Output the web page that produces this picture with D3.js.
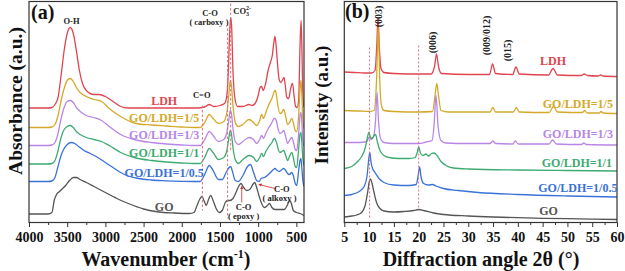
<!DOCTYPE html>
<html><head><meta charset="utf-8">
<script src="https://cdn.jsdelivr.net/npm/d3@7"></script>
<style>
body{margin:0;background:#fff}
svg{display:block;font-family:"Liberation Serif","Times New Roman",serif;font-weight:bold}
</style></head><body>
<svg id="chart" width="625" height="271"></svg>
<script>
// series names + colours (same order in both panels)
const seriesNames = ["LDH", "GO/LDH=1/5", "GO/LDH=1/3", "GO/LDH=1/1", "GO/LDH=1/0.5", "GO"];
const seriesColors = ["#e0454f", "#d4a92a", "#b886e6", "#3dab72", "#3a72d8", "#555555"];

// ---- (a) FTIR: [wavenumber cm-1, absorbance a.u. (offset)] ----
const ftirLDH = [[4000,114.5],[3750,114.5],[3700,115],[3660,118],[3620,125],[3580,147],[3540,172],[3500,189],[3460,195],[3420,189],[3380,172],[3340,152],[3300,139],[3250,132],[3150,128],[3080,128],[3000,126],[2900,121],[2800,116],[2700,114.5],[1800,114.5],[1700,115.5],[1640,118],[1580,116],[1500,117],[1440,119],[1410,127],[1390,152],[1372,192],[1360,205],[1348,197],[1330,152],[1300,122],[1270,116],[1200,116],[1120,118],[1080,117],[1040,119],[1000,127],[975,135],[955,136],[935,132],[905,138],[870,152],[840,160],[815,167],[795,180],[780,186],[765,177],[745,157],[725,143],[705,140],[685,142],[662,145],[645,137],[625,125],[600,124],[575,134],[550,139],[530,127],[510,116],[490,115],[470,122],[452,177],[438,202],[428,177],[415,127],[400,115]];
const ftir15 = [[4000,95],[3750,95],[3700,95.5],[3660,98],[3620,107],[3580,122],[3540,134],[3500,142],[3460,144],[3420,141],[3380,135],[3330,130],[3250,126],[3150,123],[3050,121],[2950,114],[2800,106],[2600,99],[2400,97.5],[2200,96.5],[2000,95.5],[1850,95],[1760,95],[1700,100],[1640,108],[1590,104],[1520,99],[1450,101],[1410,110],[1385,127],[1365,142],[1350,137],[1330,117],[1300,100],[1260,96],[1200,98],[1120,103],[1060,100],[1020,97],[980,102],[955,108],[930,104],[900,110],[860,118],[820,124],[790,131],[775,132],[760,127],[740,116],[715,109],[690,110],[665,113],[640,106],[615,98],[590,100],[560,104],[540,100],[515,92],[495,91],[470,107],[452,134],[440,142],[428,127],[415,102],[400,94]];
const ftir13 = [[4000,77],[3750,77],[3700,77.5],[3660,80],[3620,89],[3580,104],[3540,115],[3500,121],[3460,122],[3420,120],[3380,115],[3330,111],[3250,107],[3150,105],[3050,102],[2950,96],[2800,88],[2600,82.5],[2400,80],[2200,78.5],[2000,77.5],[1850,77],[1760,77],[1700,83],[1640,91],[1590,87],[1520,81],[1450,83],[1410,90],[1385,102],[1365,112],[1350,109],[1330,94],[1300,81],[1260,78],[1200,81],[1120,85],[1060,83],[1020,79],[980,83],[955,87],[930,84],[900,89],[860,95],[820,100],[790,104],[775,104],[760,101],[740,94],[715,89],[690,90],[665,92],[640,86],[615,79],[590,82],[560,85],[540,81],[515,73],[495,72],[470,89],[452,107],[440,110],[428,100],[415,82],[400,76]];
const ftir11 = [[4000,58.5],[3750,58.5],[3700,59],[3660,62],[3620,72],[3580,85],[3540,93],[3500,96],[3460,97],[3420,95],[3380,91],[3330,88],[3250,85],[3150,83],[3050,81],[2950,77],[2800,70],[2600,64.5],[2400,62],[2200,60.5],[2000,59.5],[1850,59],[1760,59],[1700,65],[1640,74],[1590,70],[1520,63],[1450,65],[1410,72],[1385,84],[1365,92],[1350,89],[1330,75],[1300,63],[1260,59],[1200,63],[1120,67],[1060,65],[1020,61],[980,65],[955,69],[930,66],[900,71],[860,76],[820,80],[790,84],[775,83],[760,80],[740,74],[715,70],[690,71],[665,72],[640,67],[615,62],[590,66],[560,70],[540,65],[515,56],[495,55],[470,74],[452,88],[440,90],[428,80],[415,64],[400,57]];
const ftir105 = [[4000,41],[3750,41],[3700,41.5],[3660,45],[3620,56],[3580,67],[3540,74],[3500,78],[3450,80],[3400,79],[3350,76],[3280,72],[3200,69],[3100,65],[3000,60],[2900,55],[2800,50],[2700,46.5],[2600,44.5],[2400,42.5],[2200,41.7],[2000,41.2],[1850,41],[1760,41],[1700,48],[1640,57],[1590,52],[1520,43],[1470,43],[1420,50],[1380,55],[1360,56],[1340,52],[1300,42],[1260,41],[1200,47],[1140,56],[1100,58],[1060,50],[1020,42],[990,41],[960,44],[920,45],[880,47],[840,50],[800,53],[780,54],[750,52],[720,51],[690,53],[665,54],[640,52],[615,49],[590,48],[560,50],[540,47],[515,39],[495,37],[470,52],[452,62],[440,64],[428,54],[415,42],[400,36]];
const ftirGO = [[4000,8.5],[3750,8.5],[3700,10],[3670,22],[3640,28],[3600,31],[3560,34],[3520,37],[3470,42],[3420,45],[3380,45],[3330,43],[3250,40],[3150,36],[3050,32],[2950,28],[2900,26],[2850,24],[2700,19],[2500,13.5],[2300,10.5],[2100,9.5],[1900,9],[1840,10],[1800,17],[1760,24],[1735,26],[1710,22],[1680,17],[1650,23],[1620,27],[1590,22],[1550,14],[1510,10],[1470,12],[1430,20],[1400,22],[1370,22],[1330,24],[1290,30],[1250,37],[1225,39],[1190,35],[1150,32],[1110,33],[1070,38],[1045,40],[1020,35],[990,27],[960,20],[920,15],[880,17],[850,19],[820,15],[780,13],[740,13],[700,13],[660,13],[620,17],[590,22],[565,19],[540,12],[500,10],[450,9],[400,7]];
const ftirSeries = [ftirLDH, ftir15, ftir13, ftir11, ftir105, ftirGO];
const ftirTicks = [4000, 3500, 3000, 2500, 2000, 1500, 1000, 500];

// ---- (b) XRD: [2theta deg, intensity a.u. (offset)] ----
const xrdLDH = [[5,150.5],[7,150],[9,149.5],[10.5,149.5],[11.2,152],[11.55,177],[11.8,205],[12.05,177],[12.4,154],[13,150],[15,149],[20,148.5],[22.5,148.5],[23.2,156],[23.6,168.5],[24.0,156],[24.6,149],[30,148],[34.3,148],[34.9,158.5],[35.5,149],[39.0,148],[39.6,155.5],[40.3,148.5],[46.2,147.5],[47.1,154],[48.0,147.5],[52.8,147],[53.4,148.5],[54,147],[56.2,146.5],[56.7,147.5],[57.2,146.5],[60,146]];
const xrd15 = [[5,112],[8,111.5],[10,111],[11.0,112],[11.5,142],[11.85,196],[12.15,142],[12.5,117],[13,112],[15,111],[20,110.5],[22.8,111],[23.3,127],[23.65,139],[24.0,127],[24.5,112],[26,110.5],[34.4,110.5],[34.95,115],[35.5,110.5],[39.1,110.5],[39.7,115],[40.3,110.5],[46.3,110],[47.2,116],[48.0,110.5],[53.0,110],[53.5,112],[54,109.5],[56.4,109.5],[56.8,111],[57.2,109.5],[60,109]];
const xrd13 = [[5,80],[8,80],[9.5,81],[10.0,85],[10.4,83],[10.9,86],[11.3,102],[11.6,130],[11.9,102],[12.3,84],[13,80],[15,79],[20,79],[21.5,80.5],[22.7,82],[23.1,97],[23.5,127],[23.9,97],[24.5,82],[25.5,79.5],[30,79],[34.4,79],[34.95,81.5],[35.5,79],[39.0,78.5],[39.5,81.5],[40.1,78.5],[46.3,78.5],[47.0,82.5],[47.8,78.5],[52.8,78],[53.3,79.5],[53.8,78],[60,77.5]];
const xrd11 = [[5,54],[6.5,56],[7.5,60],[8.5,66],[9.3,76],[9.7,86],[9.95,90],[10.3,85],[10.6,84],[11.0,87],[11.3,88],[11.7,80],[12.2,72],[13,67],[14,65],[16,64],[18,64],[19.3,65],[19.7,70],[20.0,75.5],[20.4,69],[20.9,67],[21.4,68.5],[22.0,66.5],[22.6,69],[23.1,69.5],[23.7,67],[24.5,61],[25.5,57],[27,54.5],[30,53.5],[40,52.5],[50,52],[60,51.5]];
const xrd105 = [[5,27],[6.5,28],[8,31],[9.0,36],[9.6,47],[9.9,62],[10.15,70],[10.4,60],[10.7,54],[11.2,50],[12,44],[13,40],[15,37.5],[18,37],[19.5,38],[19.9,47],[20.2,55.5],[20.5,45],[21.0,39],[22,37.5],[22.8,38],[23.5,36.5],[25,34],[28,32],[32,30],[40,28],[50,26.5],[60,25.5]];
const xrdGO = [[5,5.5],[6.5,6.5],[7.5,7.5],[8.5,10],[9.2,17],[9.7,30],[10.05,41],[10.3,43.5],[10.6,39],[11.0,30],[11.5,20],[12.2,14],[13,11.5],[15,10.5],[17,11],[19,12],[20,13],[21,12],[23,9.5],[25,8],[30,6.5],[35,5.5],[40,4.8],[45,4.2],[50,3.8],[60,3]];
const xrdSeries = [xrdLDH, xrd15, xrd13, xrd11, xrd105, xrdGO];
const xrdTicks = [5, 10, 15, 20, 25, 30, 35, 40, 45, 50, 55, 60];

// reference lines: [x, y from, y to]
const ftirRefLines = [[1730, 117, 12], [1400, 194, 4], [1360, 219, 72]];
const xrdRefLines = [[10.1, 175, 5], [20, 177, 12]];
const xrdPeakLabels = [["(003)", 12.7, 206], ["(006)", 23.4, 180], ["(009/012)", 34.3, 187], ["(015)", 38.7, 172]];

const svg = d3.select("#chart");
const frameTop = 1.5, frameBot = 222.5;

const xA = d3.scaleLinear().domain([4000, 400]).range([29, 304]);
const xB = d3.scaleLinear().domain([5, 60]).range([344.3, 617]);
const y = d3.scaleLinear().domain([0, 221]).range([frameBot, frameTop]);

function panel(id, x, series, ticks, minorStep) {
  const g = svg.append("g");
  const [x0, x1] = x.range();
  g.append("clipPath").attr("id", "clip" + id).append("rect")
    .attr("x", x0).attr("y", frameTop).attr("width", x1 - x0).attr("height", frameBot - frameTop);
  const line = d3.line().x(d => x(d[0])).y(d => y(d[1])).curve(d3.curveMonotoneX);
  g.append("g").attr("clip-path", `url(#clip${id})`)
    .selectAll("path").data(series).join("path")
    .attr("d", line).attr("fill", "none")
    .attr("stroke", (d, i) => seriesColors[i]).attr("stroke-width", 1.3);

  // minor ticks
  const dom = x.domain();
  const lo = Math.min(...dom), hi = Math.max(...dom);
  const minor = d3.range(Math.ceil(lo / minorStep) * minorStep, hi + 0.001, minorStep).filter(v => !ticks.includes(v));
  g.append("g").attr("transform", `translate(0,${frameBot})`)
    .call(d3.axisBottom(x).tickValues(minor).tickSize(2.5).tickFormat(""))
    .call(a => a.select(".domain").remove())
    .selectAll("line").attr("stroke", "#333");
  g.append("g").attr("transform", `translate(0,${frameBot})`)
    .call(d3.axisBottom(x).tickValues(ticks).tickSize(4.5).tickPadding(5.5).tickFormat(d3.format("d")))
    .attr("font-family", null).attr("font-size", 14)
    .call(a => a.select(".domain").remove())
    .call(a => a.selectAll("line").attr("stroke", "#333"))
    .call(a => a.selectAll("text").attr("fill", "#111"));

  g.append("rect").attr("x", x0).attr("y", frameTop).attr("width", x1 - x0).attr("height", frameBot - frameTop)
    .attr("fill", "none").attr("stroke", "#333").attr("stroke-width", 1.2);
  return g;
}

const gA = panel("A", xA, ftirSeries, ftirTicks, 250);
const gB = panel("B", xB, xrdSeries, xrdTicks, 2.5);

// dashed reference lines
gA.selectAll("line.ref").data(ftirRefLines).join("line").attr("class", "ref")
  .attr("x1", d => xA(d[0])).attr("x2", d => xA(d[0])).attr("y1", d => y(d[1])).attr("y2", d => y(d[2]))
  .attr("stroke", "#d9707a").attr("stroke-width", 1).attr("stroke-dasharray", "2.5,2");
gB.selectAll("line.ref").data(xrdRefLines).join("line").attr("class", "ref")
  .attr("x1", d => xB(d[0])).attr("x2", d => xB(d[0])).attr("y1", d => y(d[1])).attr("y2", d => y(d[2]))
  .attr("stroke", "#d9707a").attr("stroke-width", 1).attr("stroke-dasharray", "2,2");

// series labels
const ftirLabelAt = [[2230, 118], [2230, 101], [2230, 84], [2230, 65.5], [2230, 46], [2230, 11.5]];
const xrdLabelAt = [[47.1, 158], [52.1, 115], [52.1, 84.5], [51.9, 56], [52.1, 31], [46.2, 8]];
gA.selectAll("text.lab").data(seriesNames).join("text").attr("class", "lab")
  .attr("x", (d, i) => xA(ftirLabelAt[i][0])).attr("y", (d, i) => y(ftirLabelAt[i][1]))
  .attr("text-anchor", "middle").attr("font-size", 12).attr("fill", (d, i) => seriesColors[i]).text(d => d);
gB.selectAll("text.lab").data(seriesNames).join("text").attr("class", "lab")
  .attr("x", (d, i) => xB(xrdLabelAt[i][0])).attr("y", (d, i) => y(xrdLabelAt[i][1]))
  .attr("text-anchor", "middle").attr("font-size", 12).attr("fill", (d, i) => seriesColors[i]).text(d => d);

// FTIR annotations
const ann = (g, x, yy, t) => g.append("text").attr("x", x).attr("y", yy)
  .attr("text-anchor", "middle").attr("font-size", 8.5).attr("fill", "#222").text(t);
ann(gA, xA(3444), y(199), "O-H");
ann(gA, xA(1631), y(207), "C-O");
ann(gA, xA(1644), y(198), "( carboxy )");
ann(gA, xA(1739), y(125), "C=O");
ann(gA, xA(690), y(30.5), "C-O");
ann(gA, xA(720), y(21.5), "( alkoxy )");
ann(gA, xA(1190), y(12.5), "C-O");
ann(gA, xA(1190), y(3.5), "( epoxy )");
const co3 = gA.append("text").attr("x", xA(1325)).attr("y", y(209)).attr("font-size", 8.5).attr("fill", "#222");
co3.append("tspan").text("CO");
co3.append("tspan").attr("font-size", 6).attr("dy", 2).text("3");
co3.append("tspan").attr("font-size", 6).attr("dx", -3).attr("dy", -6).text("2-");

// red arrows
const defs = svg.append("defs");
defs.append("marker").attr("id", "arr").attr("viewBox", "0 0 6 6").attr("refX", 5).attr("refY", 3)
  .attr("markerWidth", 4).attr("markerHeight", 4).attr("orient", "auto")
  .append("path").attr("d", "M0,0L6,3L0,6Z").attr("fill", "#e02020");
const arrows = [[1215, 20, 1215, 36], [780, 34, 990, 38]];
gA.selectAll("line.arr").data(arrows).join("line").attr("class", "arr")
  .attr("x1", d => xA(d[0])).attr("y1", d => y(d[1])).attr("x2", d => xA(d[2])).attr("y2", d => y(d[3]))
  .attr("stroke", "#e02020").attr("stroke-width", 0.8).attr("marker-end", "url(#arr)");

// XRD hkl labels (rotated)
gB.selectAll("text.hkl").data(xrdPeakLabels).join("text").attr("class", "hkl")
  .attr("transform", d => `translate(${xB(d[1])},${y(d[2])}) rotate(-90)`)
  .attr("text-anchor", "middle").attr("font-size", 10).attr("fill", "#222").text(d => d[0]);

// panel letters
svg.append("text").attr("x", 31).attr("y", 19).attr("font-size", 20).attr("fill", "#111").text("(a)");
svg.append("text").attr("x", 345).attr("y", 18).attr("font-size", 20).attr("fill", "#111").text("(b)");

// axis titles
const wt = svg.append("text").attr("x", 166).attr("y", 265.5).attr("text-anchor", "middle").attr("font-size", 20).attr("fill", "#111");
wt.append("tspan").text("Wavenumber (cm");
wt.append("tspan").attr("font-size", 12).attr("dy", -8).text("-1");
wt.append("tspan").attr("dy", 8).text(")");
svg.append("text").attr("x", 481).attr("y", 266).attr("text-anchor", "middle").attr("font-size", 20).attr("fill", "#111")
  .text("Diffraction angle 2θ (°)");
svg.append("text").attr("transform", "translate(22,101) rotate(-90)").attr("text-anchor", "middle")
  .attr("font-size", 19.5).attr("fill", "#111").text("Absorbance (a.u.)");
svg.append("text").attr("transform", "translate(328,105) rotate(-90)").attr("text-anchor", "middle")
  .attr("font-size", 19).attr("fill", "#111").text("Intensity (a.u.)");
</script>
</body></html>
